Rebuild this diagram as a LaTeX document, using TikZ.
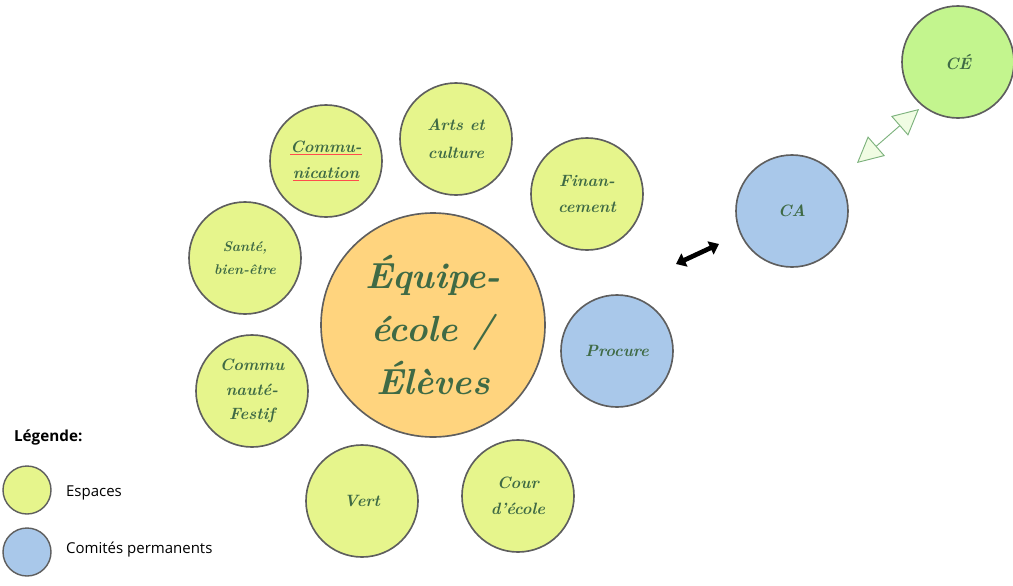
\documentclass[tikz,border=0pt]{standalone}
\usepackage{fontspec}
\newfontfamily\legendfont{Open Sans}
\usetikzlibrary{arrows.meta}

\definecolor{espace}{HTML}{E6F58C}
\definecolor{equipe}{HTML}{FFD47E}
\definecolor{comite}{HTML}{A9C8EA}
\definecolor{conseil}{HTML}{C3F58E}
\definecolor{rim}{HTML}{5E5E5E}
\definecolor{ink}{HTML}{3F6A45}
\definecolor{lien}{HTML}{7DB27D}

\newcommand{\spellmark}[1]{{\color{red!70}\underline{\textcolor{ink}{#1}}}}

\tikzset{
	bubble/.style={circle,draw=rim,line width=1.4pt,minimum size=3.36cm,inner sep=0pt,
		align=center,text=ink,font=\fontsize{14}{22}\selectfont\bfseries\itshape},
	espacebubble/.style={bubble,fill=espace},
	comitebubble/.style={bubble,fill=comite},
	legendbubble/.style={circle,draw=rim,line width=1.2pt,minimum size=1.44cm,inner sep=0pt}
}

\begin{document}
\begin{tikzpicture}[x=0.03cm,y=-0.03cm]
		\useasboundingbox (0,0) rectangle (1013,585);
		
		% centre
		\node[bubble,fill=equipe,minimum size=6.72cm,font=\fontsize{31}{45}\selectfont\bfseries\itshape] (equipe) at (433,325) {Équipe-\\école /\\Élèves};
		
		% espaces
		\node[espacebubble] (comm) at (326,161) {\spellmark{Commu-}\\\spellmark{nication}};
		\node[espacebubble,font=\fontsize{14}{24}\selectfont\bfseries\itshape] (arts) at (456,139) {Arts et\\culture};
		\node[espacebubble] (finance) at (587,194) {Finan-\\cement};
		\node[espacebubble,font=\fontsize{12}{20}\selectfont\bfseries\itshape] (sante) at (245,258) {Santé,\\bien-être};
		\node[espacebubble,font=\fontsize{14}{21}\selectfont\bfseries\itshape] (festif) at (252,391) {Commu\\nauté-\\Festif};
		\node[espacebubble] (vert) at (362,501) {Vert};
		\node[espacebubble] (cour) at (518,496) {Cour\\d'école};
		
		% comites
		\node[comitebubble] (procure) at (617,351) {Procure};
		\node[comitebubble] (ca) at (792,211) {CA};
		\node[bubble,fill=conseil] (ce) at (958,62) {CÉ};
		
		% arrows
		\coordinate (b1) at (676,264);
		\coordinate (b2) at (719,244);
		\draw[line width=4pt,{Triangle[length=8pt,width=12pt]}-{Triangle[length=8pt,width=12pt]}] (b1) -- (b2);
		\coordinate (g1) at (857,163);
		\coordinate (g2) at (919,109);
		\draw[lien,line width=0.8pt,{Triangle[open,fill=conseil!25,length=22pt,width=22pt]}-{Triangle[open,fill=conseil!25,length=22pt,width=22pt]}] (g1) -- (g2);
		
		% legend
		\node[anchor=west,font=\legendfont\bfseries\fontsize{13}{15}\selectfont] (leg) at (10,437) {Légende:};
		\node[legendbubble,fill=espace] (l1) at (27,490) {};
		\node[legendbubble,fill=comite] (l2) at (27,552) {};
		\node[anchor=west,font=\legendfont\fontsize{12.8}{15}\selectfont] (t1) at (62,493) {Espaces};
		\node[anchor=west,font=\legendfont\fontsize{12.8}{15}\selectfont] (t2) at (62,550) {Comités permanents};
	\end{tikzpicture}
\end{document}
